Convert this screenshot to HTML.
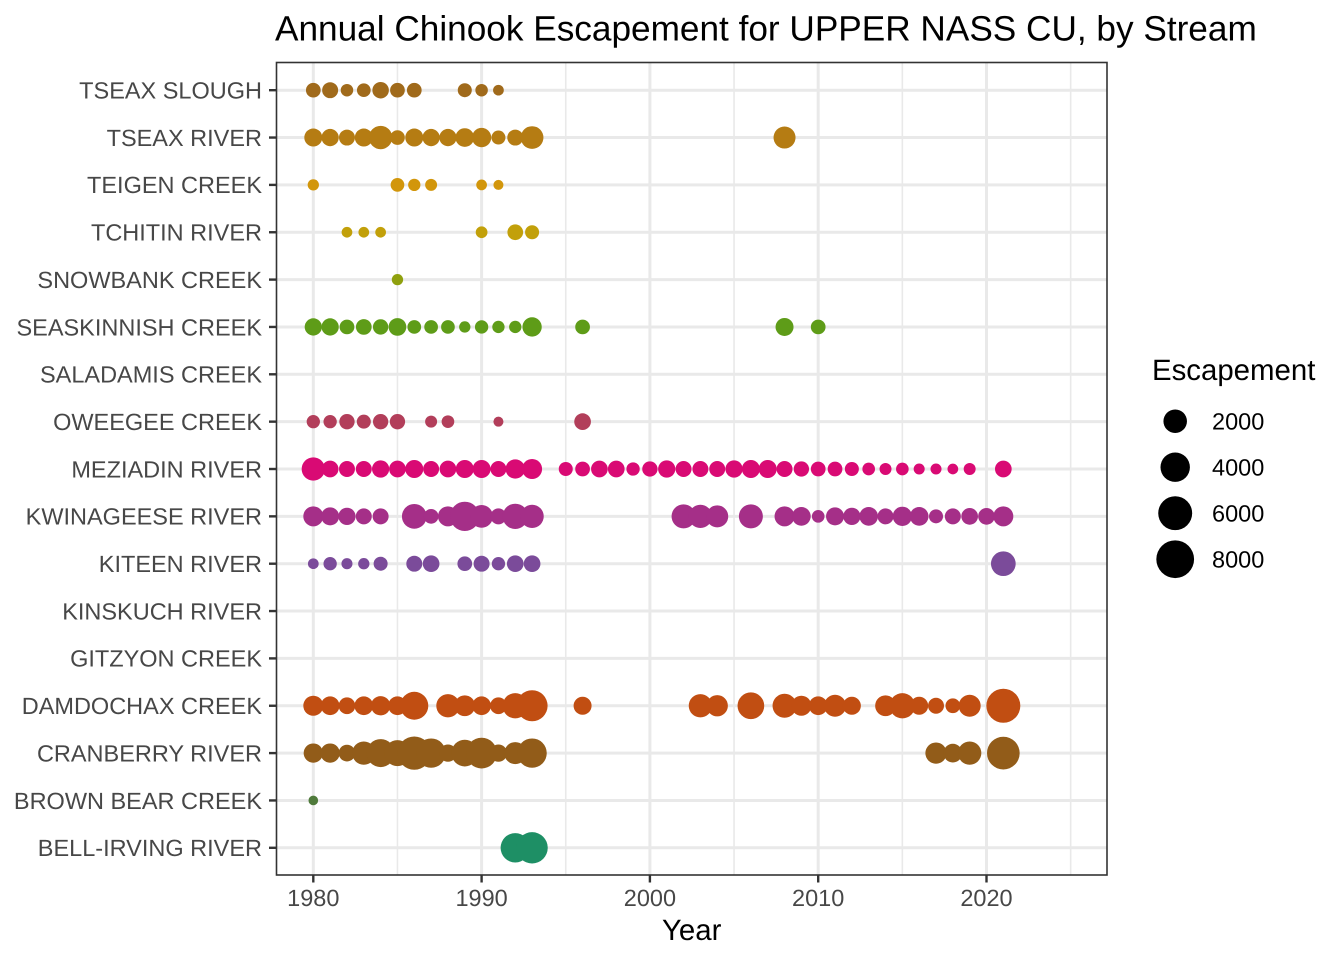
<!DOCTYPE html>
<html lang="en">
<head>
<meta charset="utf-8">
<title>Annual Chinook Escapement for UPPER NASS CU, by Stream</title>
<style>
html,body{margin:0;padding:0;background:#fff;}
svg{display:block;font-family:"Liberation Sans",Arial,sans-serif;text-rendering:geometricPrecision;}
</style>
</head>
<body>
<svg id="chart" width="1344" height="960" viewBox="0 0 1344 960" xmlns="http://www.w3.org/2000/svg">
  <rect x="0" y="0" width="1344" height="960" fill="#ffffff"/>
  <text x="275" y="40.6" font-size="35.2" fill="#000000">Annual Chinook Escapement for UPPER NASS CU, by Stream</text>
  <rect x="276.5" y="62.5" width="830.5" height="812.5" fill="#ffffff"/>
  <g id="grid"></g>
  <g id="marks"></g>
  <rect x="276.5" y="62.5" width="830.5" height="812.5" fill="none" stroke="#333333" stroke-width="1.6"/>
  <g id="axes"></g>
  <text x="691.7" y="940" font-size="29.4" text-anchor="middle" fill="#000000">Year</text>
  <g id="legend">
    <text x="1152" y="380" font-size="29.4" fill="#000000">Escapement</text>
  </g>
</svg>
<script>
const streamNames = ["BELL-IRVING RIVER","BROWN BEAR CREEK","CRANBERRY RIVER","DAMDOCHAX CREEK","GITZYON CREEK","KINSKUCH RIVER","KITEEN RIVER","KWINAGEESE RIVER","MEZIADIN RIVER","OWEEGEE CREEK","SALADAMIS CREEK","SEASKINNISH CREEK","SNOWBANK CREEK","TCHITIN RIVER","TEIGEN CREEK","TSEAX RIVER","TSEAX SLOUGH"];
const xTickYears = [1980,1990,2000,2010,2020];
const xMinorYears = [1985,1995,2005,2015,2025];
const legendValues = [2000,4000,6000,8000];

const bellIrvingYears = [1992,1993];
const bellIrvingValues = [3960,4790];
const brownBearYears = [1980];
const brownBearValues = [1];
const cranberryYears = [1980,1981,1982,1983,1984,1985,1986,1987,1988,1989,1990,1991,1992,1993,2017,2018,2019,2021];
const cranberryValues = [990,990,540,1940,3460,2760,5700,3960,630,2990,4530,630,1600,3960,1420,870,1940,5410];
const damdochaxYears = [1980,1981,1982,1983,1984,1985,1986,1988,1989,1990,1991,1992,1993,1996,2003,2004,2006,2008,2009,2010,2011,2012,2014,2015,2016,2017,2018,2019,2021];
const damdochaxValues = [1130,870,540,870,990,870,3460,1940,1290,870,540,2530,4660,750,1940,1420,2990,2140,1130,870,1600,750,1290,2530,750,440,290,1600,6030];
const gitzyonYears = [];
const gitzyonValues = [];
const kinskuchYears = [];
const kinskuchValues = [];
const kiteenYears = [1980,1981,1982,1983,1984,1986,1987,1989,1990,1991,1992,1993,2021];
const kiteenValues = [20,160,30,40,220,440,540,290,440,160,540,540,2350];
const kwinageeseYears = [1980,1981,1982,1983,1984,1986,1987,1988,1989,1990,1991,1992,1993,2002,2003,2004,2006,2008,2009,2010,2011,2012,2013,2014,2015,2016,2017,2018,2019,2020,2021];
const kwinageeseValues = [1130,750,630,440,440,2350,290,1130,3960,1780,440,2530,1940,2140,1940,1600,2140,1130,870,110,750,630,870,440,990,870,220,440,540,540,1130];
const meziadinYears = [1980,1981,1982,1983,1984,1985,1986,1987,1988,1989,1990,1991,1992,1993,1995,1996,1997,1998,1999,2000,2001,2002,2003,2004,2005,2006,2007,2008,2009,2010,2011,2012,2013,2014,2015,2016,2017,2018,2019,2021];
const meziadinValues = [1940,540,440,440,630,540,750,440,540,750,750,440,990,1130,220,290,540,540,160,360,630,440,440,440,630,750,750,440,360,290,290,220,110,70,110,30,30,20,70,540];
const oweegeeYears = [1980,1981,1982,1983,1984,1985,1987,1988,1991,1996];
const oweegeeValues = [160,160,360,220,360,360,70,110,5,540];
const saladamisYears = [];
const saladamisValues = [];
const seaskinnishYears = [1980,1981,1982,1983,1984,1985,1986,1987,1988,1989,1990,1991,1992,1993,1996,2008,2010];
const seaskinnishValues = [630,630,290,400,360,700,190,190,190,40,160,90,90,990,290,750,290];
const snowbankYears = [1985];
const snowbankValues = [40];
const tchitinYears = [1982,1983,1984,1990,1992,1993];
const tchitinValues = [20,20,20,60,400,220];
const teigenYears = [1980,1985,1986,1987,1990,1991];
const teigenValues = [40,190,90,70,20,5];
const tseaxRiverYears = [1980,1981,1982,1983,1984,1985,1986,1987,1988,1989,1990,1991,1992,1993,2008];
const tseaxRiverValues = [750,630,440,750,1940,290,750,630,630,870,990,220,440,1780,1600];
const tseaxSloughYears = [1980,1981,1982,1983,1984,1985,1986,1989,1990,1991];
const tseaxSloughValues = [290,440,100,190,510,290,290,220,100,20];

const streamYears = [bellIrvingYears,brownBearYears,cranberryYears,damdochaxYears,gitzyonYears,kinskuchYears,kiteenYears,kwinageeseYears,meziadinYears,oweegeeYears,saladamisYears,seaskinnishYears,snowbankYears,tchitinYears,teigenYears,tseaxRiverYears,tseaxSloughYears];
const streamValues = [bellIrvingValues,brownBearValues,cranberryValues,damdochaxValues,gitzyonValues,kinskuchValues,kiteenValues,kwinageeseValues,meziadinValues,oweegeeValues,saladamisValues,seaskinnishValues,snowbankValues,tchitinValues,teigenValues,tseaxRiverValues,tseaxSloughValues];
const streamColors = ["#1E8F65","#4F7A3B","#925C19","#C14E12","#9F5838","#8F5570","#7B4B9A","#A52F88","#D90A74","#B23E5A","#8A6D39","#5E9C18","#8FA00E","#C2A00A","#D2960B","#B57C13","#A06A1B"];

const SVG_NS = "http://www.w3.org/2000/svg";
const panelLeft = 276.5, panelRight = 1107, panelTop = 62.5, panelBottom = 875;
const xDomainMin = 1977.813, xDomainMax = 2027.16;
const bottomCategoryY = 847.8, categoryStep = 47.35;

function xScale(year) {
  return panelLeft + (year - xDomainMin) / (xDomainMax - xDomainMin) * (panelRight - panelLeft);
}
function yScale(index) {
  return bottomCategoryY - index * categoryStep;
}
function sizeScale(value) {
  return 9.3 + 0.318 * Math.sqrt(value);
}
function slug(text) {
  return text.toLowerCase().replace(/[^a-z0-9]+/g, "-");
}
function make(tag, attrs, parent) {
  const el = document.createElementNS(SVG_NS, tag);
  for (const k in attrs) el.setAttribute(k, attrs[k]);
  parent.appendChild(el);
  return el;
}

const grid = document.getElementById("grid");
const marks = document.getElementById("marks");
const axes = document.getElementById("axes");
const legend = document.getElementById("legend");

xMinorYears.forEach(function (year) {
  const line = make("line", {x1: xScale(year), x2: xScale(year), y1: panelTop, y2: panelBottom, stroke: "#E9E9E9", "stroke-width": 1.6}, grid);
  
  
});
xTickYears.forEach(function (year) {
  const line = make("line", {x1: xScale(year), x2: xScale(year), y1: panelTop, y2: panelBottom, stroke: "#E9E9E9", "stroke-width": 3}, grid);
  
  
});
streamNames.forEach(function (name, i) {
  const line = make("line", {x1: panelLeft, x2: panelRight, y1: yScale(i), y2: yScale(i), stroke: "#E9E9E9", "stroke-width": 3}, grid);
  
  
});

streamNames.forEach(function (name, i) {
  const years = streamYears[i];
  const values = streamValues[i];
  years.forEach(function (year, j) {
    const dot = make("circle", {cx: xScale(year), cy: yScale(i), r: sizeScale(values[j]) / 2, fill: streamColors[i]}, marks);
    
    
  });
});

streamNames.forEach(function (name, i) {
  const tick = make("line", {x1: panelLeft - 7.5, x2: panelLeft, y1: yScale(i), y2: yScale(i), stroke: "#333333", "stroke-width": 2.4}, axes);
  
  
  const label = make("text", {x: panelLeft - 14.5, y: yScale(i) + 8.3, "font-size": 23.5, "text-anchor": "end", fill: "#474747"}, axes);
  label.textContent = name;
  
  
});
xTickYears.forEach(function (year) {
  const tick = make("line", {x1: xScale(year), x2: xScale(year), y1: panelBottom, y2: panelBottom + 7.5, stroke: "#333333", "stroke-width": 2.4}, axes);
  
  
  const label = make("text", {x: xScale(year), y: 906, "font-size": 23.5, "text-anchor": "middle", fill: "#474747"}, axes);
  label.textContent = String(year);
  
  
});

legendValues.forEach(function (value, i) {
  const keyY = 421.2 + i * 46;
  const key = make("circle", {cx: 1175.2, cy: keyY, r: sizeScale(value) / 2, fill: "#000000"}, legend);
  
  
  const label = make("text", {x: 1212, y: keyY + 8.5, "font-size": 23.5, fill: "#000000"}, legend);
  label.textContent = String(value);
  
  
});
</script>
</body>
</html>
